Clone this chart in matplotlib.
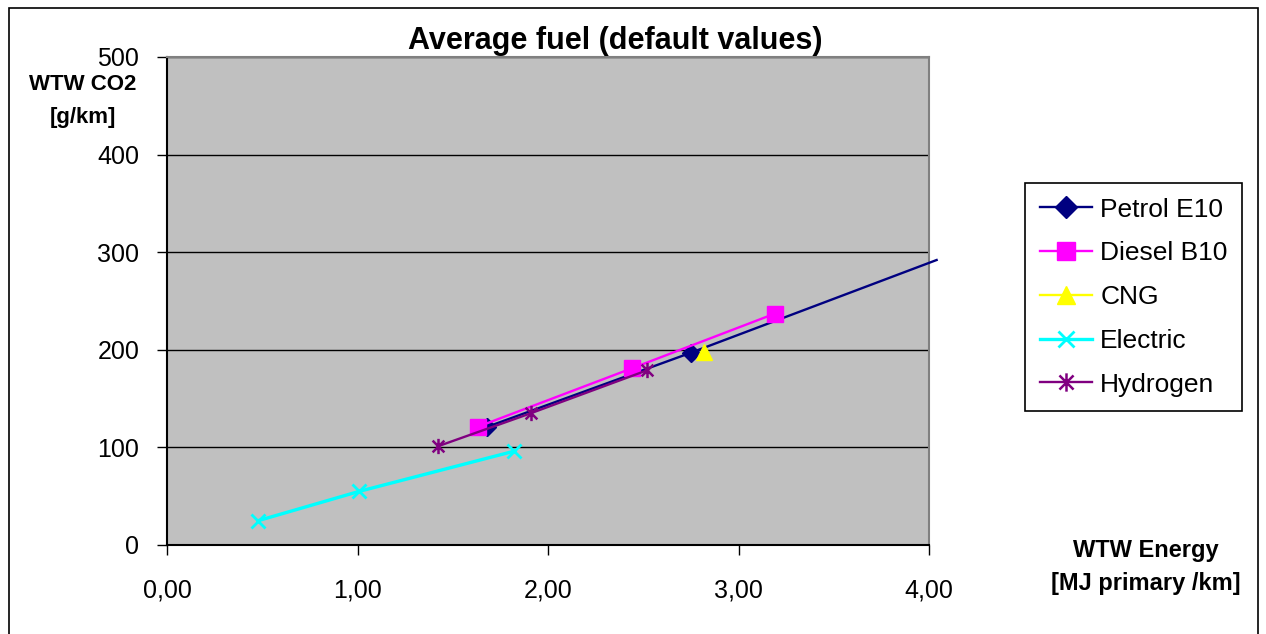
import matplotlib
matplotlib.use("Agg")
import matplotlib.pyplot as plt
from matplotlib.path import Path
from matplotlib.patches import Rectangle

plt.rcParams['font.family'] = ['Liberation Sans', 'DejaVu Sans']

# data
petrol_x = [1.68, 2.75, 4.04]
petrol_y = [121, 197, 292]
diesel_x = [1.63, 2.44, 3.19]
diesel_y = [121, 181, 237]
cng_x = [2.82]
cng_y = [198]
electric_x = [0.48, 1.01, 1.82]
electric_y = [25, 55, 96]
hydrogen_x = [1.42, 1.91, 2.52]
hydrogen_y = [101, 135, 179]

x_ticks = [0, 1, 2, 3, 4]
x_tick_labels = ["0,00", "1,00", "2,00", "3,00", "4,00"]
y_ticks = [0, 100, 200, 300, 400, 500]

W, H = 1266, 634
fig = plt.figure(figsize=(W / 100, H / 100), dpi=100)
fig.patch.set_facecolor("white")

# outer chart frame (bottom edge falls outside the picture)
fig.patches.append(Rectangle((9 / W, -0.05), (1258 - 9) / W, 1.05 - 8 / H,
                             transform=fig.transFigure, fill=False,
                             edgecolor="black", linewidth=1.2))

ax = fig.add_axes([167 / W, 1 - 545 / H, (929 - 167) / W, (545 - 57) / H])
ax.set_facecolor("#c0c0c0")

# asterisk marker like Excel's
ast = Path([(-1, -1), (1, 1), (-1, 1), (1, -1), (0, -1.3), (0, 1.3)],
           [Path.MOVETO, Path.LINETO, Path.MOVETO, Path.LINETO, Path.MOVETO, Path.LINETO])

lw = 1.7
h1, = ax.plot(petrol_x, petrol_y, color="#000080", lw=lw, marker="D", ms=9,
              markevery=[0, 1], label="Petrol E10", clip_on=False, zorder=3)
h2, = ax.plot(diesel_x, diesel_y, color="#ff00ff", lw=lw, marker="s", ms=11,
              label="Diesel B10", zorder=4)
h3, = ax.plot(cng_x, cng_y, color="#ffff00", lw=lw, marker="^", ms=11,
              label="CNG", zorder=4)
h4, = ax.plot(electric_x, electric_y, color="#00ffff", lw=2.4, marker="x", ms=10,
              mew=2, label="Electric", zorder=4)
h5, = ax.plot(hydrogen_x, hydrogen_y, color="#800080", lw=lw, marker=ast, ms=11,
              mew=1.8, label="Hydrogen", zorder=5)

ax.set_xlim(0, 4)
ax.set_ylim(0, 500)
ax.set_xticks(x_ticks)
ax.set_xticklabels(x_tick_labels)
ax.set_yticks(y_ticks)
ax.yaxis.grid(True, color="black", lw=1)
ax.set_axisbelow(True)
ax.tick_params(axis="x", length=7, width=1, pad=17, labelsize=18)
ax.tick_params(axis="y", length=7, width=1, pad=13, labelsize=18)
ax.spines["left"].set_color("black")
ax.spines["bottom"].set_color("black")
ax.spines["top"].set_color("#808080")
ax.spines["right"].set_color("#808080")
for s in ax.spines.values():
    s.set_linewidth(1.5)

fig.text(615 / W, 1 - 41 / H, "Average fuel (default values)", ha="center", va="center",
         fontsize=22, fontweight="bold")
fig.text(83 / W, 1 - 101 / H, "WTW CO2\n[g/km]", ha="center", va="center",
         fontsize=16, fontweight="bold", linespacing=1.75)
fig.text(1146 / W, 1 - 567 / H, "WTW Energy\n[MJ primary /km]", ha="center", va="center",
         fontsize=17, fontweight="bold", linespacing=1.6)

leg = fig.legend(handles=[h1, h2, h3, h4, h5], loc="upper left",
                 bbox_to_anchor=(1025 / W, 1 - 183 / H), borderaxespad=0,
                 fontsize=19, frameon=True, fancybox=False, edgecolor="black",
                 framealpha=1, labelspacing=0.75, handlelength=2.0,
                 handletextpad=0.3, borderpad=0.55, markerscale=1.2)
leg.get_frame().set_linewidth(1.2)

fig.savefig("out.png", dpi=100)
